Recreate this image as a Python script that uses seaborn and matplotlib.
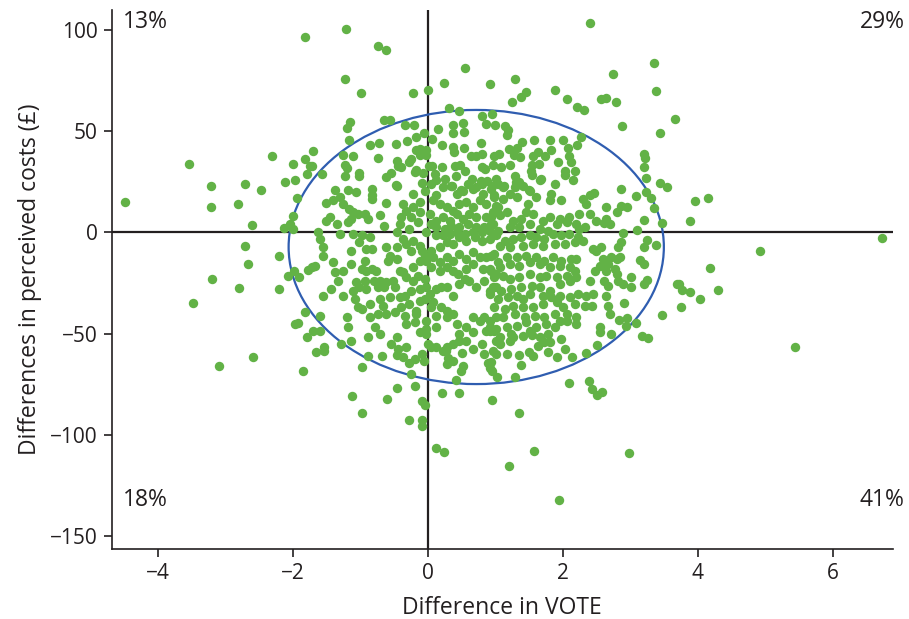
import matplotlib
matplotlib.use("Agg")
import matplotlib.pyplot as plt
import pandas as pd
import seaborn as sns
from matplotlib.patches import Ellipse

# (difference in VOTE, difference in perceived costs in £) per simulation
far_left = [
    (-1.81, 96.4), (-3.54, 33.8), (-2.30, 37.8), (-1.99, 34), (-1.82, 36.3), (-1.75, 33),
    (-1.79, 29), (-3.21, 23), (-2.71, 24), (-2.47, 21), (-2.12, 25), (-1.97, 26),
    (-4.49, 15.2), (-3.21, 12.5), (-2.81, 14.2), (-2.61, 3.8), (-1.94, 17), (-2.00, 8.3),
    (-2.04, 4.3), (-2.13, 2.1), (-2.00, 1.8), (-2.71, -6.8), (-2.20, -11.7), (-2.66, -15.8),
    (-3.20, -22.9), (-2.79, -27.6), (-2.21, -28.2), (-2.07, -21.3), (-1.98, -19.3),
    (-1.90, -22.1), (-1.77, -18.5), (-3.47, -35.1), (-1.81, -39.4), (-1.97, -45.2),
    (-1.92, -44.9), (-1.79, -51.5), (-2.59, -61.4), (-3.09, -66.2), (-1.84, -68.3),
]

upper_centre = [
    (-1.21, 100.6), (-0.73, 92.4), (-0.62, 90.3), (-1.23, 75.9), (-0.99, 68.7), (-0.21, 68.7),
    (0.01, 70.3), (0.24, 73.8), (0.56, 81.5), (0.93, 73.3), (0.31, 61.5), (0.46, 60),
    (0.80, 57.8), (0.95, 58.4), (-1.15, 54.6), (-1.20, 51.5), (-0.65, 55.8), (-0.56, 55.8),
    (-0.33, 53.1), (-0.20, 53.1), (0.38, 53.1), (0.52, 54.3), (0.86, 53.4), (1.00, 53),
    (0.16, 51), (0.38, 49.3), (0.54, 49.7), (-0.06, 49), (-1.17, 45.7), (-0.18, 47.2),
    (-0.31, 45), (0.06, 46.2), (-0.85, 43.2), (-0.72, 44.2), (-0.47, 43.9), (0.22, 43.2),
    (0.38, 42.4), (0.54, 41.7), (0.79, 44.4), (-1.70, 40.1), (-1.26, 38.5), (-1.11, 37.6),
    (-0.73, 36.8), (-0.17, 40.9), (-0.11, 41.4), (-0.02, 40.9), (-0.12, 38.5), (-0.02, 38.1),
    (0.39, 40), (0.64, 37.6), (0.72, 37.8), (0.81, 39), (0.99, 38), (-1.71, 33),
    (-1.23, 33.5), (-1.20, 31.7), (-0.45, 35.1), (-0.44, 33), (-0.24, 36.3), (-0.28, 34.8),
    (-0.40, 32.2), (-0.17, 30.7), (0.02, 33), (0.06, 32.7), (0.21, 32.2), (0.40, 32.7),
    (0.48, 33.2), (0.56, 30.2), (0.80, 32.3), (0.85, 31.2), (0.97, 33.3), (-1.56, 29),
    (-1.23, 27.9), (-1.02, 29.6), (-1.01, 28.1), (-0.55, 29.6), (-0.62, 27.4), (-0.19, 29.9),
    (-0.07, 29.6), (0.11, 29.1), (0.12, 26.1), (0.26, 26.6), (0.42, 27.7), (0.66, 26.6),
    (0.79, 25.4), (0.88, 25.4), (1.02, 26.4), (-0.09, 24.4), (-0.47, 23.6), (-1.38, 21.1),
    (-1.18, 21.1), (-0.83, 21.6), (0.23, 22.4), (0.36, 22.8), (0.49, 21.1), (0.67, 21.6),
    (0.81, 24.1), (0.95, 22.8),
]

upper_right = [
    (2.41, 103.5), (3.35, 83.8), (2.75, 78.1), (1.29, 75.7), (1.88, 70.3), (3.39, 70),
    (1.46, 69.3), (1.38, 67), (1.25, 64.5), (2.06, 66.2), (2.57, 65.8), (2.64, 66.7),
    (2.79, 64.5), (2.21, 62.2), (2.31, 60.7), (3.66, 56.3), (2.88, 52.8), (3.45, 49.3),
    (1.15, 52.4), (1.19, 50.5), (1.17, 48.4), (2.27, 47.4), (1.40, 44.9), (1.57, 45.9),
    (1.82, 45.7), (2.00, 45.7), (2.22, 43.4), (2.08, 41.7), (1.20, 41.4), (1.33, 41.7),
    (1.06, 39), (1.28, 38.5), (1.37, 37.3), (1.56, 37.6), (1.64, 39.8), (1.74, 37.8),
    (1.83, 40.6), (2.09, 37.6), (3.20, 38.6), (3.22, 36.6), (1.09, 32.3), (1.22, 33.3),
    (1.55, 33.2), (1.65, 33.8), (1.93, 35), (2.12, 35), (3.21, 32.2), (1.53, 30.3),
    (2.03, 30.2), (2.19, 30.5), (1.30, 27.7), (1.54, 28.4), (1.68, 26.6), (2.03, 28.6),
    (2.15, 26.1), (3.23, 26.9), (1.36, 24.9), (1.88, 24.1), (1.13, 22.9), (1.30, 22.4),
    (1.50, 21.1), (2.87, 21.4), (3.45, 24.3), (3.54, 22.4),
]

far_right = [
    (3.96, 15.7), (4.16, 16.8), (3.89, 5.9), (6.73, -2.8), (4.92, -9.4), (4.19, -17.8),
    (3.73, -25.7), (3.77, -28.5), (3.89, -29.5), (4.30, -28.5), (4.03, -33), (3.75, -37.1),
    (5.44, -56.4),
]

right_edge = [
    (3.08, 18.2), (3.23, 20), (3.31, 17.2), (3.36, 12), (3.20, 6.1), (3.47, 4.6),
    (3.10, 1.1), (2.89, -0.1), (3.25, -3.8), (3.38, -6.4), (3.20, -7.3), (3.15, -13.5),
    (3.20, -15.8), (3.25, -23.4), (3.20, -25.4), (3.02, -21.8), (3.01, -27.2), (3.69, -25.7),
    (3.47, -40.6), (3.08, -44.9), (2.95, -42.4), (2.91, -34.7), (2.83, -43.2), (2.94, -46),
    (3.17, -51.2), (3.26, -52.3), (2.71, -50.2), (2.55, -46.9), (2.56, -49), (2.51, -55.4),
    (2.34, -59.4), (2.14, -61.7), (2.04, -57.4), (1.97, -52.6), (1.78, -50.2), (1.89, -46.5),
    (1.63, -55.9), (1.72, -54.1), (1.50, -59.2), (1.51, -48.8), (1.54, -50.7), (1.36, -60.6),
    (1.26, -51.8), (1.24, -50.2), (1.33, -46), (1.07, -51.8),
]

centre_right = [
    (1.12, 22.7), (1.31, 24.9), (1.41, 23.2), (1.51, 20.7), (1.66, 25.7), (2.30, 16.6),
    (2.40, 18.3), (2.46, 19.4), (2.35, 14.1), (1.98, 15.8), (1.83, 19.1), (1.81, 15.8),
    (1.61, 17.5), (1.49, 14.1), (1.32, 17.5), (1.22, 19.1), (1.12, 16.6), (0.99, 18.3),
    (1.02, 13.3), (2.65, 12.5), (2.80, 10.0), (2.87, 13.3), (2.95, 12.5), (2.65, 6.7),
    (2.62, 4.6), (2.70, 4.2), (2.49, 5.9), (2.40, 9.2), (2.25, 9.2), (2.10, 7.5),
    (1.96, 6.7), (1.91, 4.2), (1.81, 7.5), (1.71, 5.9), (1.56, 9.2), (1.46, 10.0),
    (1.39, 6.7), (1.27, 5.9), (1.17, 10.0), (1.07, 8.4), (0.94, 7.5), (0.97, 4.2),
    (1.22, 2.6), (1.36, 2.6), (1.51, 4.2), (1.66, 1.8), (1.78, 0.9), (2.06, 5.1),
    (2.20, 4.2), (2.33, 2.6), (2.25, 1.8), (0.92, -3.2), (1.02, -0.7), (1.14, -4.0),
    (1.27, -3.2), (1.39, -2.4), (1.51, -1.5), (1.61, -2.4), (1.73, -3.2), (1.86, -0.7),
    (1.98, -1.5), (2.10, -0.7), (2.23, -2.4), (2.30, -4.0), (2.18, -4.8), (2.03, -5.7),
    (1.88, -5.7), (1.71, -6.5), (1.56, -5.7), (1.41, -6.5), (1.22, -7.3), (1.07, -6.5),
    (2.87, -4.8), (2.82, -7.3), (2.45, -8.1), (2.50, -9.0), (2.57, -7.3), (0.94, -11.4),
    (1.04, -14.7), (1.17, -12.3), (1.32, -12.3), (1.46, -11.4), (1.61, -12.3), (1.73, -13.9),
    (1.86, -12.3), (1.98, -13.9), (2.13, -13.1), (2.20, -13.1), (2.11, -17.2), (1.96, -16.4),
    (1.81, -17.2), (1.66, -15.6), (1.51, -14.7), (1.36, -16.4), (1.22, -15.6), (1.07, -17.2),
    (2.60, -13.1), (2.67, -15.6), (2.72, -12.3), (2.80, -13.1), (2.85, -12.3), (2.65, -18.9),
    (2.77, -18.0), (0.92, -18.0), (0.99, -22.2), (1.12, -21.3), (1.22, -23.0), (1.36, -22.2),
    (1.51, -20.5), (1.66, -22.2), (1.76, -21.3), (1.91, -22.2), (2.06, -21.3), (2.18, -18.9),
    (2.20, -22.2), (2.40, -23.8), (2.48, -18.9), (2.55, -16.4), (2.62, -23.8), (2.67, -26.3),
    (2.80, -20.5), (2.82, -23.8), (2.90, -25.5), (0.97, -27.1), (1.09, -28.8), (1.24, -27.9),
    (1.39, -27.1), (1.54, -26.3), (1.66, -27.1), (1.81, -28.8), (1.96, -25.5), (2.11, -23.8),
    (0.92, -30.4), (1.04, -32.9), (1.19, -32.1), (1.32, -31.2), (1.41, -32.9), (1.51, -30.4),
    (1.71, -31.2), (1.83, -32.1), (1.96, -31.2), (2.11, -32.1), (2.23, -30.4), (2.35, -31.2),
    (2.45, -30.4), (2.65, -31.2), (2.43, -36.2), (2.33, -36.2), (2.18, -35.4), (2.01, -37.0),
    (1.91, -34.5), (1.71, -35.4), (1.56, -37.0), (1.41, -37.0), (1.27, -36.2), (1.14, -37.8),
    (0.99, -37.0), (2.67, -36.2), (2.70, -40.3), (0.92, -43.6), (1.12, -42.0), (1.29, -40.3),
    (1.44, -42.0), (1.59, -41.1), (1.73, -42.0), (1.88, -40.3), (2.06, -40.3), (2.20, -42.0),
    (2.20, -45.3), (2.06, -43.6), (1.96, -43.6), (1.76, -45.3), (1.61, -46.9), (1.46, -44.4),
    (1.17, -46.9), (1.02, -47.7), (0.92, -48.6), (1.41, -51.0), (1.66, -51.9), (1.81, -54.3),
    (1.22, -53.5), (1.07, -55.2), (0.97, -58.5), (1.17, -60.1), (1.56, -61.0), (1.78, -59.3),
    (1.91, -61.8),
]

centre_left = [
    (-0.83, 18.3), (-1.06, 19.9), (-1.30, 17.5), (-1.50, 14.5), (-1.40, 15.8), (-1.25, 14.1),
    (-1.16, 11.7), (-1.11, 10.0), (-0.83, 16.6), (-0.61, 14.5), (-0.46, 23.2), (-0.37, 14.1),
    (-0.22, 19.1), (-0.04, 20.7), (-0.12, 15.0), (0.05, 24.1), (0.13, 18.3), (0.35, 23.2),
    (0.43, 19.1), (0.52, 20.7), (0.60, 24.1), (0.72, 22.4), (0.82, 19.1), (0.94, 21.6),
    (1.04, 24.1), (0.99, 17.5), (0.87, 14.1), (0.77, 15.8), (0.67, 12.5), (0.57, 15.0),
    (0.47, 14.1), (0.38, 10.8), (0.28, 12.5), (0.18, 14.1), (0.08, 15.8), (0.03, 9.2),
    (0.13, 5.9), (0.23, 7.5), (0.33, 5.9), (0.43, 9.2), (0.52, 6.7), (0.62, 9.2),
    (0.72, 7.5), (0.87, 7.5), (0.97, 10.0), (1.04, 12.5), (0.94, 4.2), (0.84, 2.6),
    (0.72, 2.6), (0.60, 4.2), (0.47, 2.6), (0.35, 3.4), (0.25, 1.8), (0.13, 2.6),
    (0.05, 4.2), (-0.12, 10.0), (-0.22, 12.5), (-0.32, 10.8), (-0.39, 7.5), (-0.24, 7.5),
    (-0.14, 5.1), (-0.27, 1.8), (-0.41, 4.2), (-0.46, 0.1), (-0.64, 3.4), (-0.71, 8.4),
    (-0.93, 9.2), (-0.88, 6.7), (-1.03, 9.2), (-1.13, 6.7), (-1.18, 5.1), (-1.35, 4.2),
    (-1.45, 7.5), (-1.50, 5.9), (-1.62, 0.1), (-1.60, -3.2), (-1.55, -7.3), (-1.55, -11.4),
    (-1.30, -0.7), (-1.11, -0.7), (-0.98, -1.5), (-0.86, -2.4), (-1.01, -4.8), (-0.83, -8.1),
    (-0.91, -8.1), (-0.61, -7.3), (-0.46, -7.3), (-0.37, -3.2), (-0.32, -5.7), (-0.22, -4.0),
    (-0.24, -9.0), (-0.12, -6.5), (-0.02, 0.1), (-0.09, -9.0), (-0.04, -11.4), (0.05, -9.0),
    (0.18, -7.3), (0.28, -4.8), (0.38, -5.7), (0.47, -2.4), (0.57, -4.0), (0.70, -2.4),
    (0.80, -4.0), (1.02, -1.5), (0.13, -1.5), (0.23, -1.5), (0.33, -0.7), (0.43, 0.1),
    (0.55, -0.7), (0.67, 0.1), (0.80, 0.1), (0.92, 0.9), (1.04, 0.9), (-1.13, -9.0),
    (-1.40, -14.7), (-1.72, -17.2), (-1.67, -16.4), (-1.13, -15.6), (-0.93, -13.9),
    (-0.59, -13.9), (-0.56, -11.4), (-0.46, -13.1), (-0.41, -18.9), (-0.37, -19.7),
    (-0.32, -22.2), (-0.22, -17.2), (-0.12, -13.9), (-0.02, -13.9), (0.08, -12.3),
    (0.18, -14.7), (0.28, -12.3), (0.38, -13.9), (0.47, -10.6), (0.57, -13.1), (0.67, -9.8),
    (0.77, -12.3), (0.87, -12.3), (0.99, -10.6), (0.05, -17.2), (0.18, -18.9), (0.28, -17.2),
    (0.38, -18.9), (0.45, -20.5), (0.57, -18.0), (0.67, -15.6), (0.82, -18.0), (0.94, -18.9),
    (1.02, -20.5), (-1.38, -19.7), (-1.33, -23.8), (-1.25, -18.9), (-0.98, -18.0),
    (-0.91, -18.9), (-0.83, -18.0), (-0.76, -18.9), (-0.93, -23.8), (-1.06, -24.6),
    (-0.79, -23.8), (-0.71, -23.8), (-0.61, -24.6), (-0.51, -23.8), (-0.49, -27.1),
    (-0.64, -27.1), (-0.74, -27.1), (-0.91, -27.9), (-1.01, -27.1), (-1.11, -28.8),
    (-1.25, -31.2), (-1.43, -27.9), (-1.55, -31.2), (-0.22, -23.8), (-0.14, -21.3),
    (-0.04, -23.0), (-0.02, -27.1), (-0.12, -27.9), (-0.24, -28.8), (-0.34, -31.2),
    (0.03, -30.4), (0.13, -27.9), (0.20, -27.1), (0.28, -27.1), (0.38, -31.2), (0.47, -25.5),
    (0.55, -23.0), (0.62, -23.8), (0.72, -27.1), (0.84, -23.8), (0.92, -28.8), (1.02, -27.1),
    (-1.08, -32.9), (-1.03, -37.0), (-0.98, -37.8), (-0.86, -35.4), (-0.71, -32.9),
    (-0.66, -36.2), (-0.56, -32.1), (-0.41, -32.1), (-0.39, -37.0), (-0.27, -35.4),
    (-0.17, -38.7), (-0.12, -33.7), (-0.04, -32.9), (0.08, -34.5), (0.20, -37.0),
    (0.28, -38.7), (0.38, -40.3), (0.28, -42.0), (0.13, -41.1), (0.05, -37.0), (-1.60, -41.1),
    (-1.60, -48.6), (-1.70, -48.6), (-1.20, -42.0), (-1.18, -46.9), (-0.86, -42.0),
    (-0.74, -40.3), (-0.61, -40.3), (-0.49, -39.5), (-0.34, -41.1), (-0.32, -45.3),
    (-0.19, -44.4), (-0.17, -40.3), (-0.02, -43.6), (0.13, -46.9), (-0.02, -47.7),
    (-0.12, -49.4), (-0.02, -50.2), (0.43, -45.3), (0.47, -50.2), (0.57, -46.9), (0.67, -42.0),
    (0.77, -43.6), (0.84, -42.0), (0.92, -46.9), (1.02, -42.0), (0.99, -48.6), (0.87, -48.6),
    (0.67, -49.4), (0.57, -53.5), (0.47, -53.5), (0.38, -55.2), (0.28, -56.8), (0.23, -58.5),
    (0.13, -56.8), (0.00, -55.2), (0.05, -56.8), (-0.09, -60.1), (-0.19, -62.6), (-0.32, -56.8),
    (-0.44, -57.6), (-0.46, -51.9), (-0.54, -55.2), (-0.71, -50.2), (-0.78, -46.9),
    (-0.88, -51.9), (-1.13, -53.5), (-1.28, -55.2), (-1.53, -56.8), (-0.88, -61.0),
    (0.67, -57.6), (0.80, -55.2), (0.84, -60.1), (1.02, -53.5), (1.02, -60.1),
]

lower_centre = [
    (-1.66, -58.9), (-1.53, -58.4), (-0.98, -66.7), (-0.68, -60.9), (-0.46, -60.4),
    (-0.36, -61.7), (-0.28, -64.7), (-0.05, -63.7), (-0.25, -70.1), (-0.19, -76.1),
    (-0.45, -76.7), (-1.12, -80.7), (-0.60, -82.2), (-0.08, -83.2), (-0.04, -85.1),
    (-0.97, -89.4), (-0.27, -92.6), (-0.08, -92.9), (-0.08, -95.7), (0.12, -106.6),
    (0.24, -108.4), (0.27, -58.4), (0.30, -62.0), (0.38, -63.4), (0.28, -65), (0.51, -59.7),
    (0.52, -65.8), (0.50, -68.3), (0.42, -72.9), (0.22, -79.5), (0.47, -79.5), (0.90, -64.7),
    (0.93, -67), (0.96, -68.6), (1.03, -71.3), (0.96, -82.8),
]

lower_right = [
    (0.94, -64.2), (1.39, -65.3), (1.30, -71.3), (2.09, -74.6), (2.39, -73.3), (2.44, -77.4),
    (2.51, -80.3), (2.58, -78.9), (1.35, -89.4), (1.57, -108.1), (1.21, -115.2),
    (2.99, -109.2), (1.94, -132.5),
]

# Quadrant shares (text, x, y, alignment)
quadrant_labels = [("13%", -4.52, 104, "left"), ("29%", 7.07, 104, "right"),
                   ("18%", -4.52, -132.5, "left"), ("41%", 7.07, -132.5, "right")]

# 95% region: centre and full width/height in data units
ellipse_centre = (0.72, -7.2)
ellipse_size = (5.56, 135.5)

x_ticks = [-4, -2, 0, 2, 4, 6]
y_ticks = [100, 50, 0, -50, -100, -150]

groups = [far_left, upper_centre, upper_right, far_right, right_edge,
          centre_right, centre_left, lower_centre, lower_right]
df = pd.DataFrame([p for g in groups for p in g], columns=["vote", "cost"])

sns.set_style("ticks")
plt.rcParams["font.family"] = ["Open Sans", "DejaVu Sans"]
plt.rcParams["axes.unicode_minus"] = True

GREEN = "#62b246"
BLUE = "#2f5db0"
INK = "#231f20"

fig = plt.figure(figsize=(9.09, 6.19), dpi=100)
ax = fig.add_axes([0.123, 0.113, 0.859, 0.871])

ax.axhline(0, color=INK, lw=1.6, zorder=1)
ax.axvline(0, color=INK, lw=1.6, zorder=1)
ax.add_patch(Ellipse(ellipse_centre, *ellipse_size, fill=False,
                     edgecolor=BLUE, lw=1.6, zorder=1.5))

sns.scatterplot(data=df, x="vote", y="cost", color=GREEN, s=46, linewidth=0,
                ax=ax, zorder=2, legend=False)

ax.set_xlim(-4.68, 6.89)
ax.set_ylim(-156.5, 110)
ax.set_xticks(x_ticks)
ax.set_yticks(y_ticks)
ax.tick_params(axis="both", labelsize=15, length=6, width=1.2, color=INK,
               labelcolor=INK, direction="out", pad=4)
for side in ("top", "right"):
    ax.spines[side].set_visible(False)
for side in ("left", "bottom"):
    ax.spines[side].set_color(INK)
    ax.spines[side].set_linewidth(1.2)

ax.set_xlabel("Difference in VOTE", fontsize=16.5, color=INK, labelpad=9)
ax.set_ylabel("Differences in perceived costs (£)", fontsize=16.5, color=INK, labelpad=6)

for text, x, y, ha in quadrant_labels:
    ax.text(x, y, text, ha=ha, va="center", fontsize=16.5, color=INK, clip_on=False)

fig.savefig("out.png", dpi=100)
